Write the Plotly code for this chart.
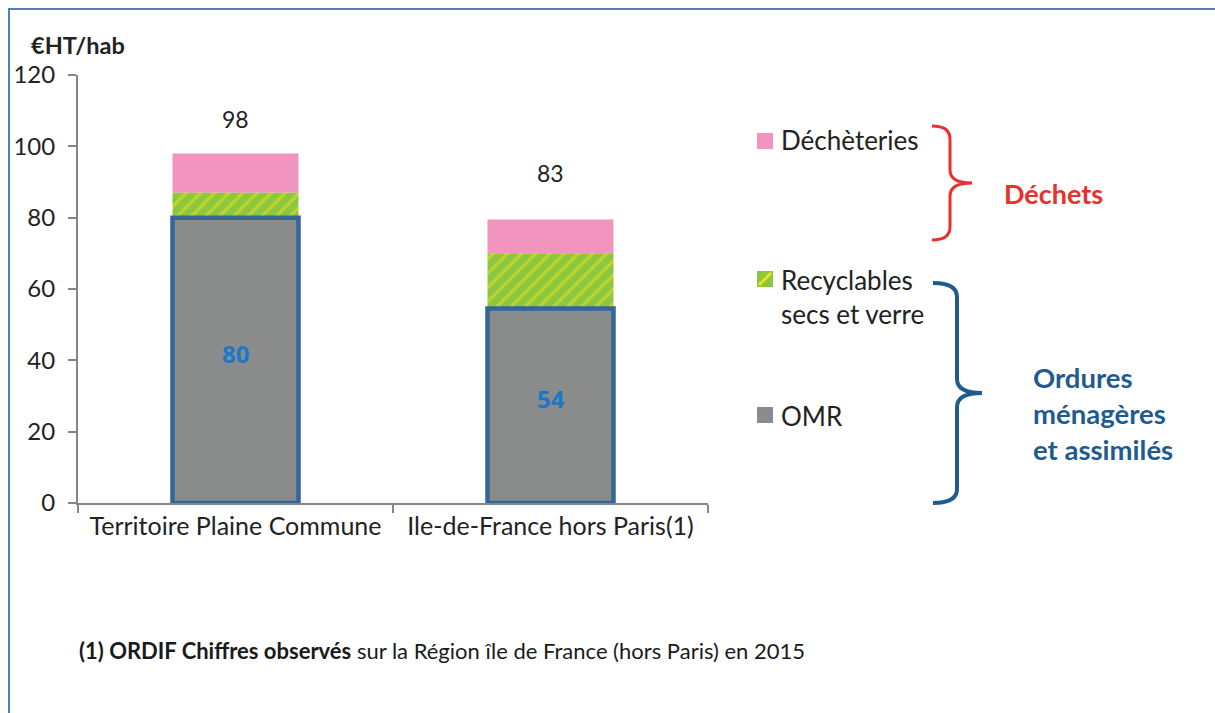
import plotly.graph_objects as go

# ---- data ----
categories = ["Territoire Plaine Commune", "Ile-de-France hors Paris(1)"]
omr = [80, 54.5]
recyclables = [7, 15.5]
decheteries = [11, 9.5]
totals = [98, 83]
omr_labels = ["80", "54"]
y_ticks = [0, 20, 40, 60, 80, 100, 120]

FONT = "Lato"
W, H = 1215, 713
L, R, T, B = 78, 507, 75, 210
PW, PH = W - L - R, H - T - B


def px(x):
    return (x - L) / PW


def py(y):
    return (H - B - y) / PH


base_rec = omr
base_dech = [o + r for o, r in zip(omr, recyclables)]

fig = go.Figure()
fig.add_trace(go.Bar(
    x=categories, y=decheteries, base=base_dech, name="Déchèteries",
    marker=dict(color="#f295be", line=dict(width=0)), width=0.4,
    hoverinfo="skip"))
fig.add_trace(go.Bar(
    x=categories, y=recyclables, base=base_rec, name="Recyclables secs et verre",
    marker=dict(color="#8dc63f", line=dict(width=0),
                pattern=dict(shape="/", bgcolor="#8dc63f", fgcolor="#ece41c",
                             size=10, solidity=0.32)),
    width=0.4, hoverinfo="skip"))
fig.add_trace(go.Bar(
    x=categories, y=omr, base=[0, 0], name="OMR",
    marker=dict(color="#8a8c8c", line=dict(color="#336699", width=4.5)),
    width=0.4, hoverinfo="skip"))

annotations = []
for c, t in zip(categories, totals):
    annotations.append(dict(x=c, y=t, xref="x", yref="y", text=str(t),
                            showarrow=False, yanchor="middle", yshift=34,
                            font=dict(family=FONT, size=23, color="#222")))
for c, v, lab in zip(categories, omr, omr_labels):
    annotations.append(dict(x=c, y=v / 2, xref="x", yref="y", text=lab,
                            showarrow=False, yanchor="middle", yshift=7,
                            font=dict(family="Open Sans", size=24, color="#1a78c8",
                                      weight=700)))

# axis title
annotations.append(dict(x=px(29), y=py(45), xref="paper", yref="paper",
                        text="<b>€HT/hab</b>", showarrow=False,
                        xanchor="left", yanchor="middle",
                        font=dict(family=FONT, size=23.5, color="#222")))

# custom legend
LEG = 26
legend_items = [("Déchèteries", 139), ("Recyclables<br>secs et verre", 279), ("OMR", 415)]
for txt, yc in legend_items:
    annotations.append(dict(x=px(779), y=py(yc - 17), xref="paper", yref="paper",
                            text=txt, showarrow=False, xanchor="left", yanchor="top",
                            align="left",
                            font=dict(family=FONT, size=LEG, color="#222")))

annotations.append(dict(x=px(1053), y=py(193), xref="paper", yref="paper",
                        text="<b>Déchets</b>", showarrow=False,
                        xanchor="center", yanchor="middle",
                        font=dict(family=FONT, size=27, color="#e8302e")))
annotations.append(dict(x=px(1031), y=py(359), xref="paper", yref="paper",
                        text="<b>Ordures<br>ménagères<br>et assimilés</b>",
                        showarrow=False, xanchor="left", yanchor="top", align="left",
                        font=dict(family=FONT, size=27.5, color="#1f5b8f")))

annotations.append(dict(x=px(77), y=py(650), xref="paper", yref="paper",
                        text="<b>(1) ORDIF Chiffres observés</b> sur la Région île de France (hors Paris) en 2015",
                        showarrow=False, xanchor="left", yanchor="middle",
                        font=dict(family=FONT, size=22, color="#1a1a1a")))

shapes = []
# legend swatches
shapes.append(dict(type="rect", xref="paper", yref="paper",
                   x0=px(757), x1=px(773), y0=py(149), y1=py(133),
                   fillcolor="#f295be", line=dict(width=0)))
shapes.append(dict(type="rect", xref="paper", yref="paper",
                   x0=px(757), x1=px(773), y0=py(287), y1=py(271),
                   fillcolor="#8dc63f", line=dict(width=0)))
shapes.append(dict(type="line", xref="paper", yref="paper",
                   x0=px(759), x1=px(771), y0=py(285), y1=py(273),
                   line=dict(color="#ece41c", width=3)))
shapes.append(dict(type="rect", xref="paper", yref="paper",
                   x0=px(757), x1=px(773), y0=py(423), y1=py(407),
                   fillcolor="#8a8c8c", line=dict(width=0)))


def brace(xe, xs, xp, ytop, ymid, ybot, r):
    pts = [
        ("M", [(xe, ytop)]),
        ("Q", [(xs, ytop), (xs, ytop + r)]),
        ("L", [(xs, ymid - r)]),
        ("Q", [(xs, ymid), (xp, ymid)]),
        ("Q", [(xs, ymid), (xs, ymid + r)]),
        ("L", [(xs, ybot - r)]),
        ("Q", [(xs, ybot), (xe, ybot)]),
    ]
    s = ""
    for cmd, ps in pts:
        s += cmd + " " + " ".join(f"{px(a):.5f},{py(b):.5f}" for a, b in ps) + " "
    return s.strip()


shapes.append(dict(type="path", xref="paper", yref="paper",
                   path=brace(932, 950, 972, 126, 183, 240, 13),
                   line=dict(color="#e8302e", width=3)))
shapes.append(dict(type="path", xref="paper", yref="paper",
                   path=brace(933, 957, 982, 283, 393, 503, 14),
                   line=dict(color="#1f5b8f", width=4)))

# outer frame
shapes.append(dict(type="line", xref="paper", yref="paper",
                   x0=px(8), x1=px(1215), y0=py(9), y1=py(9),
                   line=dict(color="#4f7fb5", width=2)))
shapes.append(dict(type="line", xref="paper", yref="paper",
                   x0=px(9), x1=px(9), y0=py(8), y1=py(713),
                   line=dict(color="#4f7fb5", width=2)))

fig.update_layout(
    width=W, height=H,
    margin=dict(l=L, r=R, t=T, b=B),
    paper_bgcolor="white", plot_bgcolor="white",
    showlegend=False,
    barmode="overlay",
    annotations=annotations,
    shapes=shapes,
    font=dict(family=FONT, size=21, color="#222"),
    xaxis=dict(type="category", showline=True, linecolor="#868686", linewidth=2,
               ticks="outside", tickson="boundaries", ticklen=8, tickcolor="#868686",
               tickwidth=2, showgrid=False, tickfont=dict(family=FONT, size=25, color="#222"),
               range=[-0.5, 1.5]),
    yaxis=dict(range=[0, 120], tickvals=y_ticks, showline=True, linecolor="#868686",
               linewidth=2, ticks="outside", ticklen=8, tickcolor="#868686", tickwidth=2,
               showgrid=False, zeroline=False, ticklabelstandoff=8,
               tickfont=dict(family=FONT, size=24, color="#222")),
)

fig.write_html("out.html", config={"displayModeBar": False},
               post_script="document.body.style.margin='0';document.body.style.overflow='hidden';")
